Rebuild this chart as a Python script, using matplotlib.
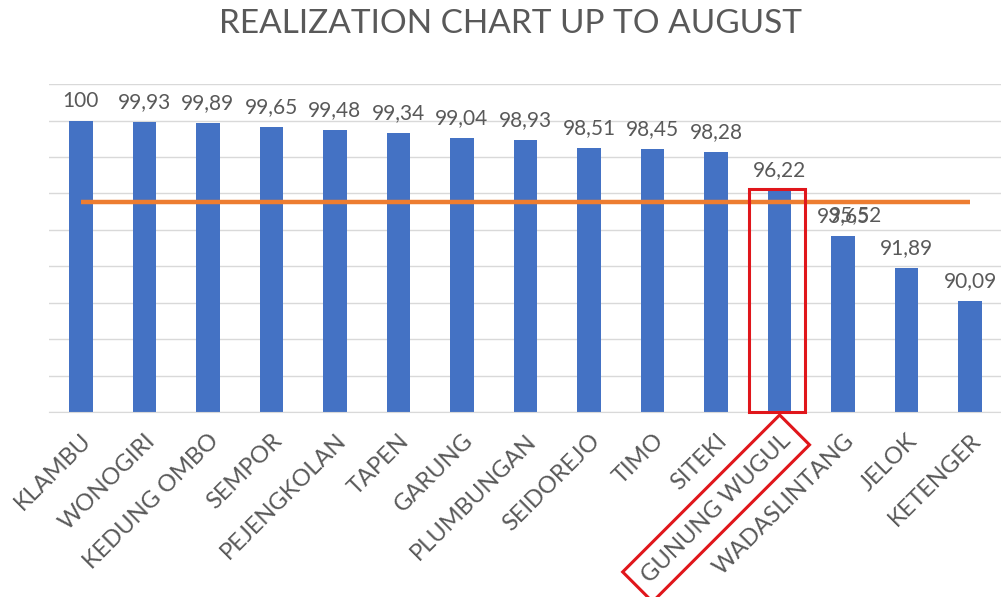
import matplotlib
matplotlib.use("Agg")
import matplotlib.pyplot as plt
from matplotlib.patches import Rectangle

# data
names = ["KLAMBU", "WONOGIRI", "KEDUNG OMBO", "SEMPOR", "PEJENGKOLAN", "TAPEN",
         "GARUNG", "PLUMBUNGAN", "SEIDOREJO", "TIMO", "SITEKI", "GUNUNG WUGUL",
         "WADASLINTANG", "JELOK", "KETENGER"]
realization = [100, 99.93, 99.89, 99.65, 99.48, 99.34, 99.04, 98.93, 98.51,
               98.45, 98.28, 96.22, 93.65, 91.89, 90.09]
target = 95.52
highlight = "GUNUNG WUGUL"

plt.rcParams["font.family"] = ["Lato", "DejaVu Sans"]
grey = "#595959"

fig = plt.figure(figsize=(10.01, 5.97), dpi=100)
ax = fig.add_axes([0.049, 0.31, 0.952, 0.549])

x = list(range(len(names)))
ax.bar(x, realization, width=0.37, color="#4472c4", zorder=2)
ax.plot(x, [target] * len(x), color="#ed7d31", lw=3.2, zorder=3,
        solid_capstyle="butt")

fmt = lambda v: ("%g" % v).replace(".", ",")
for i, v in enumerate(realization):
    ax.annotate(fmt(v), (i, v), xytext=(0, 7), textcoords="offset points",
                ha="center", va="bottom", fontsize=15, color=grey)
# line label only shows once (overlaps the bar label)
ax.annotate(fmt(target), (12, target), xytext=(9, -2), textcoords="offset points",
            ha="center", va="top", fontsize=15, color=grey)

ax.set_ylim(84, 102)
ax.set_xlim(-0.5, len(names) - 0.5)
ax.set_yticks(range(84, 103, 2))
ax.yaxis.grid(True, color="#d9d9d9", lw=1)
ax.set_axisbelow(True)
ax.tick_params(axis="y", left=False, labelleft=False)
ax.tick_params(axis="x", length=0, pad=13)
for s in ["left", "right", "top"]:
    ax.spines[s].set_visible(False)
ax.spines["bottom"].set_color("#d9d9d9")

ax.set_xticks(x)
ax.set_xticklabels(names, rotation=45, ha="right", rotation_mode="anchor",
                   fontsize=17, color=grey)

# red highlight boxes
hi = names.index(highlight)
ax.add_patch(Rectangle((hi - 0.48, 84), 0.88, realization[hi] - 84 + 0.05,
                       fill=False, edgecolor="#e0161b", lw=2.2, zorder=4,
                       clip_on=False))
lab = ax.get_xticklabels()[hi]
lab.set_bbox(dict(boxstyle="square,pad=0.45", fc="none", ec="#e0161b", lw=2.2))

fig.suptitle("REALIZATION CHART UP TO AUGUST", x=0.51, y=0.985, fontsize=24,
             color=grey)

fig.savefig("out.png", dpi=100)
